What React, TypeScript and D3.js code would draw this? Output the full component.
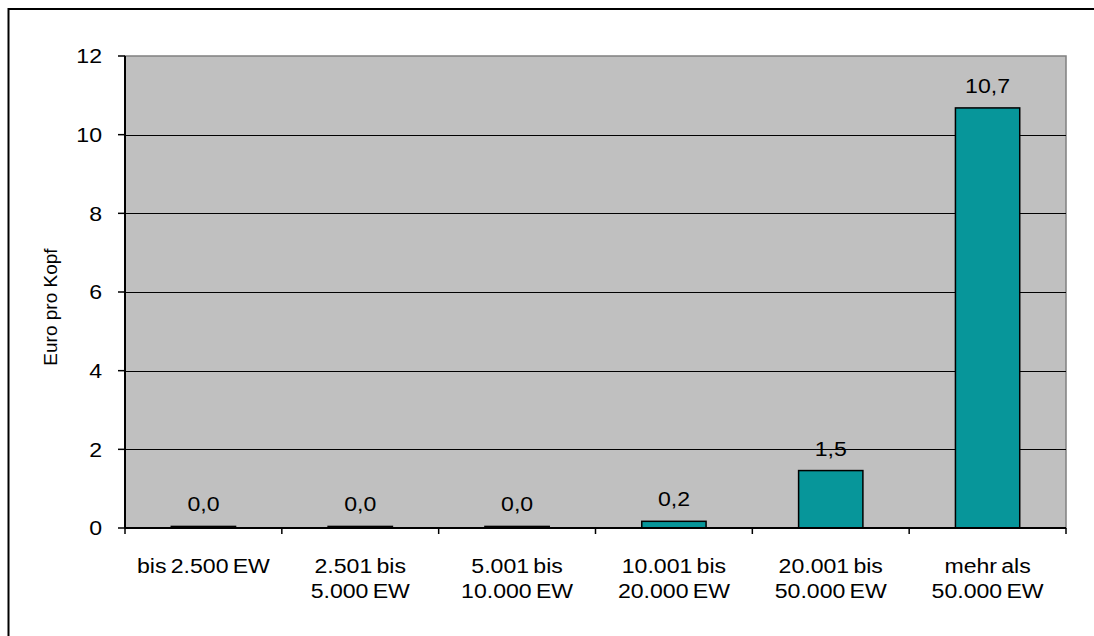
import React from "react";
import * as d3 from "d3";

const categories: string[][] = [
  ["bis 2.500 EW"],
  ["2.501 bis", "5.000 EW"],
  ["5.001 bis", "10.000 EW"],
  ["10.001 bis", "20.000 EW"],
  ["20.001 bis", "50.000 EW"],
  ["mehr als", "50.000 EW"],
];
const values: number[] = [0.04, 0.04, 0.04, 0.17, 1.46, 10.68];
const yTicks: number[] = [0, 2, 4, 6, 8, 10, 12];
const yLabel = "Euro pro Kopf";

const W = 1094;
const H = 636;
const left = 125;
const right = 1066;
const top = 56;
const bottom = 528;
const font = "'Liberation Sans', Arial, sans-serif";
const fs = 21;
const sx = 1.1;

function SText(props: { x: number; y: number; anchor?: string; children: React.ReactNode; dy?: string; ws?: number }) {
  const { x, y, anchor = "middle", children, dy, ws = 0 } = props;
  return (
    <g transform={`translate(${x},${y}) scale(${sx},1)`}>
      <text x={0} y={0} dy={dy} textAnchor={anchor} fontSize={fs} fill="#000" style={{ wordSpacing: `${ws}px` }}>
        {children}
      </text>
    </g>
  );
}

export default function App() {
  const x = d3.scaleBand<number>().domain(d3.range(categories.length)).range([left, right]).paddingInner(0).paddingOuter(0);
  const y = d3.scaleLinear().domain([0, 12]).range([bottom, top]);
  const bw = x.bandwidth() * 0.41;
  const fmt = (v: number) => d3.format(".1f")(v).replace(".", ",");

  return (
    <svg width={W} height={H} style={{ position: "absolute", left: 0, top: 0 }} fontFamily={font}>
      <rect x={0} y={0} width={W} height={H} fill="#fff" />
      <rect x={8.5} y={9} width={W + 20} height={H + 20} fill="none" stroke="#000" strokeWidth={2} />
      {/* plot area */}
      <rect x={left} y={top} width={right - left} height={bottom - top} fill="#C0C0C0" stroke="#808080" strokeWidth={1.5} />
      {/* gridlines */}
      {yTicks.filter((t) => t > 0 && t < 12).map((t) => (
        <line key={t} x1={left} x2={right} y1={Math.round(y(t)) + 0.5} y2={Math.round(y(t)) + 0.5} stroke="#000" strokeWidth={1.2} />
      ))}
      {/* bars */}
      {values.map((v, i) => {
        const cx = (x(i) as number) + x.bandwidth() / 2;
        return (
          <g key={i}>
            <rect x={cx - bw / 2} y={y(v)} width={bw} height={bottom - y(v)} fill="#07969A" stroke="#000" strokeWidth={1.5} />
            <SText x={cx} y={y(v) - 15}>{fmt(v)}</SText>
          </g>
        );
      })}
      {/* y axis */}
      <line x1={left} x2={left} y1={top} y2={bottom} stroke="#000" strokeWidth={2} />
      {yTicks.map((t) => (
        <g key={t}>
          <line x1={left - 7} x2={left} y1={y(t)} y2={y(t)} stroke="#000" strokeWidth={1.5} />
          <SText x={102} y={y(t)} dy="0.35em" anchor="end">{t}</SText>
        </g>
      ))}
      {/* x axis */}
      <line x1={left} x2={right} y1={bottom} y2={bottom} stroke="#000" strokeWidth={2} />
      {d3.range(categories.length + 1).map((i) => {
        const xx = left + i * x.bandwidth();
        return <line key={i} x1={xx} x2={xx} y1={bottom} y2={bottom + 6} stroke="#000" strokeWidth={1.5} />;
      })}
      {categories.map((lines, i) => {
        const cx = (x(i) as number) + x.bandwidth() / 2;
        return (
          <g key={i}>
            {lines.map((l, j) => (
              <SText key={j} x={cx} y={573 + j * 25} ws={-2}>{l}</SText>
            ))}
          </g>
        );
      })}
      <text transform={`translate(57,307) rotate(-90)`} textAnchor="middle" fontSize={19} fill="#000">{yLabel}</text>
    </svg>
  );
}
